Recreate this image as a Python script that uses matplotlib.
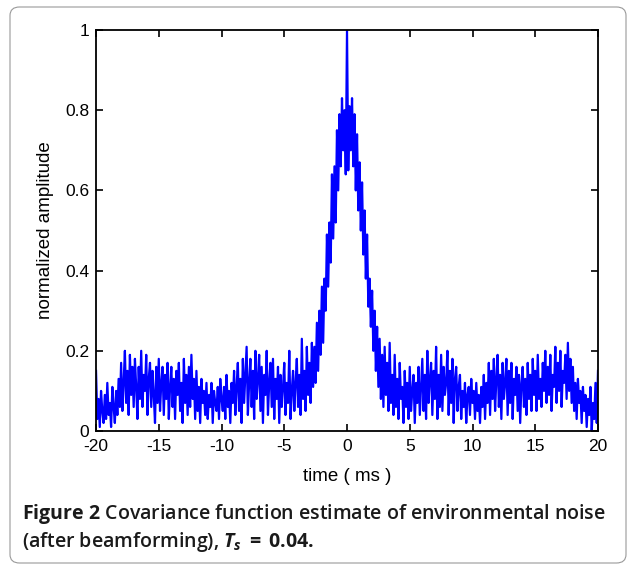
import matplotlib
matplotlib.use('Agg')
import matplotlib.pyplot as plt
from matplotlib.patches import FancyBboxPatch
import numpy as np

# covariance estimate, every 0.1 ms (-20 .. 20 ms)
t_start, t_step = -20.0, 0.1
amplitude = [
    0.15, 0.03, 0.08, 0.01, 0.10, 0.05, 0.02, 0.09, 0.03, 0.12,   # -20
    0.04, 0.07, 0.01, 0.11, 0.06, 0.02, 0.10, 0.04, 0.13, 0.06,   # -19
    0.17, 0.05, 0.12, 0.20, 0.07, 0.15, 0.04, 0.19, 0.09, 0.16,   # -18
    0.06, 0.18, 0.11, 0.03, 0.16, 0.08, 0.20, 0.06, 0.14, 0.10,   # -17
    0.19, 0.04, 0.13, 0.17, 0.06, 0.15, 0.09, 0.02, 0.16, 0.07,   # -16
    0.18, 0.05, 0.12, 0.16, 0.04, 0.14, 0.08, 0.17, 0.03, 0.11,   # -15
    0.16, 0.06, 0.13, 0.03, 0.15, 0.09, 0.17, 0.05, 0.12, 0.02,   # -14
    0.18, 0.07, 0.14, 0.04, 0.16, 0.06, 0.19, 0.08, 0.13, 0.03,   # -13
    0.15, 0.05, 0.11, 0.02, 0.13, 0.07, 0.10, 0.04, 0.12, 0.03,   # -12
    0.09, 0.06, 0.12, 0.02, 0.10, 0.07, 0.05, 0.11, 0.03, 0.13,   # -11
    0.08, 0.05, 0.11, 0.03, 0.14, 0.06, 0.10, 0.02, 0.12, 0.07,   # -10
    0.15, 0.04, 0.11, 0.17, 0.05, 0.13, 0.02, 0.18, 0.07, 0.14,   # -9
    0.21, 0.04, 0.12, 0.18, 0.06, 0.15, 0.03, 0.20, 0.08, 0.13,   # -8
    0.19, 0.05, 0.16, 0.02, 0.14, 0.09, 0.20, 0.04, 0.12, 0.17,   # -7
    0.06, 0.18, 0.03, 0.13, 0.08, 0.16, 0.02, 0.14, 0.06, 0.11,   # -6
    0.17, 0.04, 0.12, 0.07, 0.20, 0.03, 0.10, 0.15, 0.05, 0.12,   # -5
    0.18, 0.06, 0.14, 0.04, 0.23, 0.08, 0.15, 0.05, 0.21, 0.09,   # -4
    0.17, 0.07, 0.22, 0.11, 0.21, 0.12, 0.27, 0.15, 0.30, 0.19,   # -3
    0.36, 0.22, 0.38, 0.30, 0.49, 0.36, 0.52, 0.42, 0.64, 0.48,   # -2
    0.66, 0.52, 0.75, 0.60, 0.79, 0.66, 0.83, 0.70, 0.80, 0.64,   # -1
    1.00, 0.65, 0.81, 0.70, 0.83, 0.66, 0.79, 0.60, 0.74, 0.55,   # 0
    0.67, 0.50, 0.62, 0.44, 0.55, 0.38, 0.49, 0.31, 0.38, 0.26,   # 1
    0.35, 0.20, 0.30, 0.15, 0.26, 0.11, 0.23, 0.08, 0.19, 0.06,   # 2
    0.21, 0.09, 0.17, 0.05, 0.22, 0.07, 0.14, 0.04, 0.19, 0.06,   # 3
    0.13, 0.03, 0.17, 0.08, 0.11, 0.02, 0.15, 0.06, 0.12, 0.03,   # 4
    0.16, 0.05, 0.10, 0.14, 0.02, 0.12, 0.07, 0.16, 0.04, 0.11,   # 5
    0.18, 0.05, 0.14, 0.03, 0.20, 0.07, 0.13, 0.17, 0.04, 0.15,   # 6
    0.08, 0.21, 0.03, 0.14, 0.06, 0.19, 0.05, 0.16, 0.09, 0.12,   # 7
    0.20, 0.04, 0.15, 0.07, 0.18, 0.02, 0.13, 0.16, 0.05, 0.11,   # 8
    0.14, 0.03, 0.10, 0.06, 0.12, 0.02, 0.09, 0.11, 0.04, 0.13,   # 9
    0.07, 0.10, 0.03, 0.12, 0.05, 0.09, 0.02, 0.11, 0.06, 0.14,   # 10
    0.03, 0.12, 0.07, 0.17, 0.04, 0.15, 0.08, 0.18, 0.05, 0.13,   # 11
    0.19, 0.06, 0.14, 0.03, 0.17, 0.08, 0.12, 0.18, 0.04, 0.15,   # 12
    0.07, 0.17, 0.03, 0.13, 0.09, 0.16, 0.05, 0.14, 0.02, 0.12,   # 13
    0.16, 0.06, 0.13, 0.04, 0.17, 0.08, 0.14, 0.05, 0.18, 0.09,   # 14
    0.15, 0.05, 0.19, 0.08, 0.13, 0.06, 0.17, 0.10, 0.20, 0.07,   # 15
    0.16, 0.09, 0.19, 0.05, 0.14, 0.11, 0.21, 0.07, 0.17, 0.10,   # 16
    0.20, 0.06, 0.15, 0.12, 0.19, 0.08, 0.22, 0.10, 0.18, 0.07,   # 17
    0.16, 0.05, 0.12, 0.03, 0.13, 0.07, 0.10, 0.02, 0.11, 0.05,   # 18
    0.09, 0.01, 0.08, 0.04, 0.11, 0.00, 0.07, 0.03, 0.12, 0.02,   # 19
    0.15,                                                         # 20
]
xticks = [-20, -15, -10, -5, 0, 5, 10, 15, 20]
yticks = [0, 0.2, 0.4, 0.6, 0.8, 1]
ytick_labels = ['0', '0.2', '0.4', '0.6', '0.8', '1']

plt.rcParams['font.family'] = ['Liberation Sans', 'DejaVu Sans']
plt.rcParams['mathtext.fontset'] = 'custom'
plt.rcParams['mathtext.rm'] = 'Open Sans:bold'
plt.rcParams['mathtext.it'] = 'Open Sans:italic:bold'
plt.rcParams['mathtext.bf'] = 'Open Sans:bold'

t = t_start + t_step * np.arange(len(amplitude))

fig = plt.figure(figsize=(6.33, 5.69), dpi=100)
ax = fig.add_axes([0.1517, 0.2425, 0.793, 0.7048])
ax.plot(t, amplitude, color='#0000ff', linewidth=1.6)

ax.set_xlim(-20, 20)
ax.set_ylim(0, 1)
ax.set_xticks(xticks)
ax.set_xticklabels([str(v) for v in xticks])
ax.set_yticks(yticks)
ax.set_yticklabels(ytick_labels)
ax.tick_params(direction='in', length=5, width=1.2, labelsize=12.5,
               top=True, right=True)
ax.tick_params(axis='x', pad=6)
ax.tick_params(axis='y', pad=5)
for s in ax.spines.values():
    s.set_linewidth(1.3)
ax.set_xlabel('time ( ms )', fontsize=13.5, labelpad=10)
ax.set_ylabel('normalized amplitude', fontsize=13.5, labelpad=8)

# caption box
box = FancyBboxPatch((10 / 633, 6 / 569), 616 / 633, 556 / 569,
                     boxstyle='round,pad=0,rounding_size=0.015',
                     transform=fig.transFigure, facecolor='none',
                     edgecolor='#999999', linewidth=0.8)
fig.patches.append(box)

cap_font = dict(family='Open Sans', fontsize=14, fontweight='semibold',
                color='#1a1a1a')
fig.text(22 / 633, 1 - 519 / 569,
         r'$\mathbf{Figure\ 2}$ Covariance function estimate of environmental noise',
         **cap_font)
fig.text(22 / 633, 1 - 547 / 569, r'(after beamforming), $T_s\;=\;0.04.$',
         **cap_font)

fig.savefig('out.png', dpi=100)
